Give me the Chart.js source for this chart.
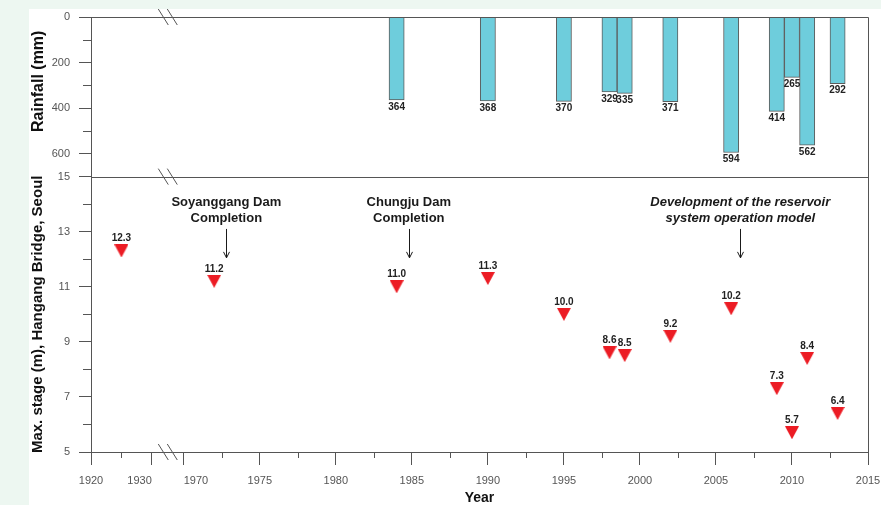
<!DOCTYPE html>
<html>
<head>
<meta charset="utf-8">
<script src="https://cdn.jsdelivr.net/npm/chart.js@4.4.1/dist/chart.umd.min.js"></script>
<style>
  html, body { margin: 0; padding: 0; width: 881px; height: 505px; overflow: hidden; background: #edf7f1; }
  #wrap { position: absolute; left: 29px; top: 9px; width: 852px; height: 496px; background: #fff; }
  canvas { display: block; }
</style>
</head>
<body>
<div id="wrap"><canvas id="chart" width="852" height="496"></canvas></div>
<script>
(() => {
  "use strict";

  // rainfall of the flood events (mm)
  const rainYears = [1984, 1990, 1995, 1998, 1999, 2002, 2006, 2009, 2010, 2011, 2013];
  const rainfall = [364, 368, 370, 329, 335, 371, 594, 414, 265, 562, 292];

  // max. stage at Hangang Bridge (m)
  const stageYears = [1925, 1972, 1984, 1990, 1995, 1998, 1999, 2002, 2006, 2009, 2010, 2011, 2013];
  const maxStage = [12.3, 11.2, 11.0, 11.3, 10.0, 8.6, 8.5, 9.2, 10.2, 7.3, 5.7, 8.4, 6.4];

  // axis ticks
  const yearTicks = [1920, 1930, 1970, 1975, 1980, 1985, 1990, 1995, 2000, 2005, 2010, 2015];
  const yearMinorTicks = [1925, 1972.5, 1977.5, 1982.5, 1987.5, 1992.5, 1997.5, 2002.5, 2007.5, 2012.5];
  const rainTicks = [0, 200, 400, 600];
  const rainMinorTicks = [100, 300, 500];
  const stageTicks = [5, 7, 9, 11, 13, 15];
  const stageMinorTicks = [6, 8, 10, 12, 14];

  // events marked with arrows
  const eventYears = [1972.8, 1984.8, 2006.6];
  const eventLabels = [
    ["Soyanggang Dam", "Completion"],
    ["Chungju Dam", "Completion"],
    ["Development of the reservoir", "system operation model"]
  ];
  const eventItalic = [false, false, true];

  const AXIS = "#555";
  const FONT = "'Liberation Sans', Arial, sans-serif";
  const GAP = "        ";

  // broken time axis: 1920-1930 compressed, then 1970 onwards
  function yearToAxis(y) {
    return y <= 1950 ? (y - 1920) * 0.4 : 6.1 + (y - 1970);
  }

  function makeTicks(majors, minors, conv) {
    const f = conv || (v => v);
    const list = majors.map(v => ({ value: f(v), raw: v, minor: false }))
      .concat(minors.map(v => ({ value: f(v), raw: v, minor: true })));
    return list.sort((a, b) => a.value - b.value);
  }

  function triangleImage() {
    const c = document.createElement("canvas");
    c.width = 14;
    c.height = 13;
    const g = c.getContext("2d");
    g.fillStyle = "#ec1c24";
    g.beginPath();
    g.moveTo(0, 0);
    g.lineTo(14, 0);
    g.lineTo(7, 13);
    g.closePath();
    g.fill();
    return c;
  }

  const tickColor = ctx => (ctx.tick && ctx.tick.minor) ? "rgba(0,0,0,0)" : AXIS;
  const tickLabel = (v, i, ticks) => ticks[i].minor ? "" : String(ticks[i].raw);
  // labels either side of the axis break are pushed apart
  const yearLabel = (v, i, ticks) => {
    const t = ticks[i];
    if (t.minor) return "";
    if (t.raw === 1930) return "1930" + GAP;
    if (t.raw === 1970) return GAP + "1970";
    return String(t.raw);
  };
  const noPadding = s => {
    s.paddingTop = 0;
    s.paddingBottom = 0;
    s.paddingLeft = 0;
    s.paddingRight = 0;
  };

  const decorations = {
    id: "decorations",
    afterDatasetsDraw(chart) {
      const ctx = chart.ctx;

      ctx.save();
      ctx.fillStyle = "#222";
      ctx.font = `bold 10px ${FONT}`;
      ctx.textAlign = "center";
      ctx.textBaseline = "middle";
      // value labels under bars
      chart.getDatasetMeta(0).data.forEach((el, i) => {
        ctx.fillText(String(rainfall[i]), el.x, el.y + 7);
      });
      // value labels over stage markers
      chart.getDatasetMeta(1).data.forEach((el, i) => {
        ctx.fillText(maxStage[i].toFixed(1), el.x, el.y - 12.5);
      });
      ctx.restore();
    },
    afterDraw(chart) {
      const ctx = chart.ctx;
      const { x, yR, yS } = chart.scales;
      const area = chart.chartArea;
      ctx.save();
      ctx.strokeStyle = AXIS;
      ctx.lineWidth = 1;

      // frame and panel divider
      const div = Math.round(yS.top) + 0.5;
      ctx.beginPath();
      ctx.moveTo(Math.round(area.left) + 0.5, Math.round(area.top) + 0.5);
      ctx.lineTo(Math.round(area.right) + 0.5, Math.round(area.top) + 0.5);
      ctx.lineTo(Math.round(area.right) + 0.5, Math.round(area.bottom) + 0.5);
      ctx.moveTo(Math.round(area.left) + 0.5, div);
      ctx.lineTo(Math.round(area.right) + 0.5, div);
      ctx.stroke();

      // minor ticks (shorter)
      ctx.beginPath();
      x.ticks.forEach(t => {
        if (!t.minor) return;
        const px = Math.round(x.getPixelForValue(t.value)) + 0.5;
        ctx.moveTo(px, x.top);
        ctx.lineTo(px, x.top + 6);
      });
      [yR, yS].forEach(s => {
        s.ticks.forEach(t => {
          if (!t.minor) return;
          const py = Math.round(s.getPixelForValue(t.value)) + 0.5;
          ctx.moveTo(s.right - 8, py);
          ctx.lineTo(s.right, py);
        });
      });
      ctx.stroke();

      // axis break marks between 1930 and 1970
      const bx = x.getPixelForValue((yearToAxis(1930) + yearToAxis(1970)) / 2);
      ctx.beginPath();
      [area.top, yS.top, area.bottom].forEach(cy => {
        [-4.5, 4.5].forEach(off => {
          ctx.moveTo(bx + off - 5, cy - 8);
          ctx.lineTo(bx + off + 5, cy + 8);
        });
      });
      ctx.stroke();

      // event annotations
      ctx.fillStyle = "#1a1a1a";
      ctx.strokeStyle = "#1a1a1a";
      ctx.textAlign = "center";
      ctx.textBaseline = "middle";
      eventYears.forEach((yr, i) => {
        const px = x.getPixelForValue(yearToAxis(yr));
        ctx.font = `${eventItalic[i] ? "italic " : ""}bold 13px ${FONT}`;
        ctx.fillText(eventLabels[i][0], px, yS.getPixelForValue(14.07));
        ctx.fillText(eventLabels[i][1], px, yS.getPixelForValue(13.5));
        const ax = Math.round(px) + 0.5;
        const top = yS.getPixelForValue(13.1);
        const bot = yS.getPixelForValue(12.05);
        ctx.beginPath();
        ctx.moveTo(ax, top);
        ctx.lineTo(ax, bot);
        ctx.moveTo(ax - 3, bot - 6);
        ctx.lineTo(ax, bot);
        ctx.lineTo(ax + 3, bot - 6);
        ctx.stroke();
      });
      ctx.restore();
    }
  };

  const canvas = document.getElementById("chart");

  new Chart(canvas, {
    type: "bar",
    data: {
      datasets: [
        {
          type: "bar",
          label: "Rainfall",
          data: rainYears.map((y, i) => ({ x: yearToAxis(y), y: rainfall[i] })),
          xAxisID: "x",
          yAxisID: "yR",
          backgroundColor: "#6ecddc",
          borderColor: "#5c5c5c",
          borderWidth: 1,
          borderSkipped: "start",
          barPercentage: 1,
          categoryPercentage: 1
        },
        {
          type: "line",
          label: "Max. stage",
          data: stageYears.map((y, i) => ({ x: yearToAxis(y), y: maxStage[i] })),
          xAxisID: "x",
          yAxisID: "yS",
          showLine: false,
          pointStyle: triangleImage(),
          pointRadius: 7,
          borderColor: "#ec1c24",
          backgroundColor: "#ec1c24"
        }
      ]
    },
    options: {
      responsive: false,
      animation: false,
      devicePixelRatio: 1,
      layout: { padding: { top: 7, right: 13, left: 0, bottom: 0 } },
      plugins: {
        legend: { display: false },
        tooltip: { enabled: false }
      },
      scales: {
        x: {
          type: "linear",
          min: yearToAxis(1920),
          max: yearToAxis(2015),
          offset: false,
          afterBuildTicks: s => { s.ticks = makeTicks(yearTicks, yearMinorTicks, yearToAxis); },
          afterFit: s => { s.height = 53; noPadding(s); },
          ticks: {
            autoSkip: false,
            maxRotation: 0,
            padding: 9,
            color: AXIS,
            font: { family: FONT, size: 11 },
            callback: yearLabel
          },
          grid: { drawOnChartArea: false, offset: false, tickLength: 13, tickColor: tickColor },
          border: { color: AXIS },
          title: {
            display: true,
            text: "Year",
            color: "#111",
            font: { family: FONT, size: 14, weight: "bold", lineHeight: 1 },
            padding: 0
          }
        },
        yR: {
          type: "linear",
          position: "left",
          stack: "panels",
          stackWeight: 160,
          weight: 1,
          reverse: true,
          min: 0,
          max: 700,
          afterBuildTicks: s => { s.ticks = makeTicks(rainTicks, rainMinorTicks); },
          afterFit: s => { s.width = 62; noPadding(s); },
          ticks: {
            autoSkip: false,
            padding: 9,
            color: AXIS,
            font: { family: FONT, size: 11 },
            callback: tickLabel
          },
          grid: { drawOnChartArea: false, tickLength: 12, tickColor: tickColor },
          border: { color: AXIS },
          title: {
            display: true,
            text: "       Rainfall (mm)",
            color: "#111",
            font: { family: FONT, size: 16, weight: "bold" },
            padding: 0
          }
        },
        yS: {
          type: "linear",
          position: "left",
          stack: "panels",
          stackWeight: 276,
          weight: 0,
          min: 5,
          max: 15,
          afterBuildTicks: s => { s.ticks = makeTicks(stageTicks, stageMinorTicks); },
          afterFit: s => { s.width = 62; noPadding(s); },
          ticks: {
            autoSkip: false,
            padding: 9,
            color: AXIS,
            font: { family: FONT, size: 11 },
            callback: tickLabel
          },
          grid: { drawOnChartArea: false, tickLength: 12, tickColor: tickColor },
          border: { color: AXIS },
          title: {
            display: true,
            text: "Max. stage (m), Hangang Bridge, Seoul",
            color: "#111",
            font: { family: FONT, size: 15, weight: "bold" },
            padding: 0
          }
        }
      }
    },
    plugins: [decorations]
  });
})();
</script>
</body>
</html>
